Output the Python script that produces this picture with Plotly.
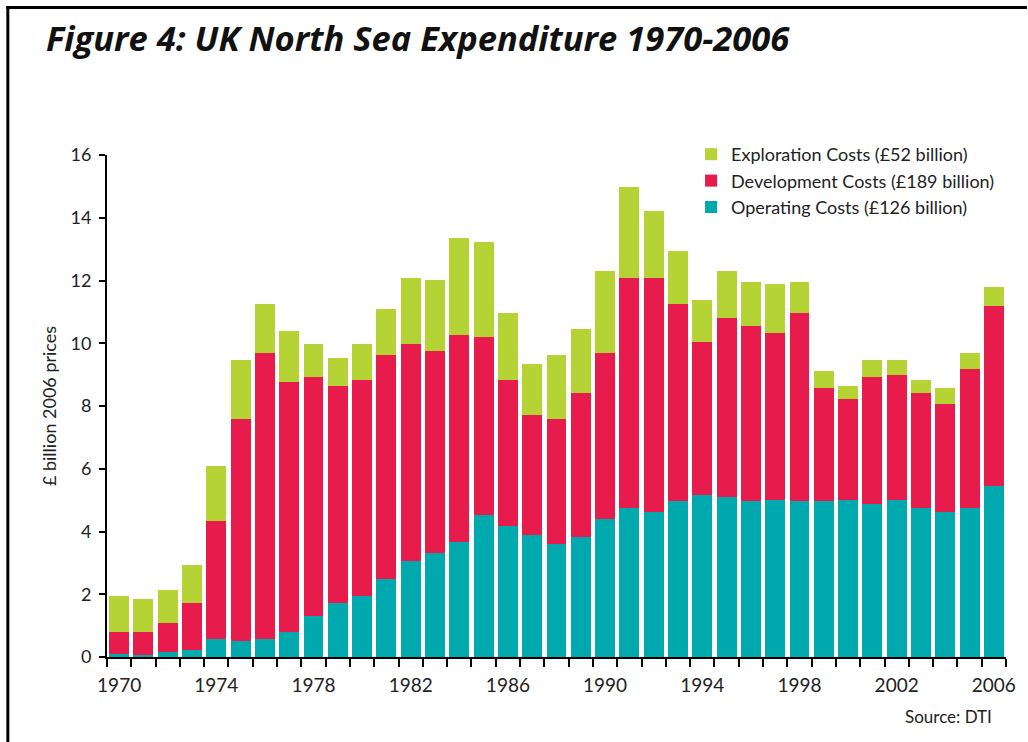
import plotly.graph_objects as go

years = list(range(1970, 2007))
# stacked tops: operating, operating+development, total
operating = [0.08, 0.06, 0.16, 0.23, 0.58, 0.51, 0.58, 0.80, 1.30, 1.72, 1.93, 2.49, 3.05,
             3.33, 3.68, 4.53, 4.18, 3.90, 3.61, 3.82, 4.39, 4.75, 4.61, 4.96, 5.17,
             5.10, 4.96, 5.02, 4.96, 4.96, 5.02, 4.88, 5.02, 4.75, 4.61, 4.75, 5.46]
dev_top = [0.80, 0.80, 1.08, 1.72, 4.33, 7.58, 9.70, 8.78, 8.92, 8.64, 8.84, 9.63, 9.98,
           9.76, 10.27, 10.19, 8.84, 7.72, 7.58, 8.42, 9.69, 12.09, 12.09, 11.24, 10.04,
           10.82, 10.54, 10.33, 10.96, 8.56, 8.21, 8.91, 8.98, 8.42, 8.07, 9.19, 11.18]
total_top = [1.93, 1.86, 2.12, 2.92, 6.10, 9.48, 11.24, 10.39, 9.98, 9.54, 9.98, 11.10, 12.09,
             12.02, 13.35, 13.22, 10.96, 9.34, 9.62, 10.46, 12.30, 14.99, 14.20, 12.94, 11.38,
             12.30, 11.94, 11.88, 11.94, 9.12, 8.63, 9.47, 9.47, 8.84, 8.56, 9.69, 11.80]
development = [round(d - o, 2) for d, o in zip(dev_top, operating)]
exploration = [round(t - d, 2) for t, d in zip(total_top, dev_top)]

names = ["Operating Costs (£126 billion)", "Development Costs (£189 billion)",
         "Exploration Costs (£52 billion)"]
colors = ["#00A9AD", "#E71C4C", "#B5D334"]
ranks = [3, 2, 1]
series = [operating, development, exploration]

label_years = list(range(1970, 2007, 4))
y_ticks = list(range(0, 17, 2))

FONT = "Lato, 'Open Sans', sans-serif"
TFONT = "'Open Sans', Lato, sans-serif"

fig = go.Figure()
for i, (nm, col, vals, rk) in enumerate(zip(names, colors, series, ranks)):
    fig.add_trace(go.Bar(x=years, y=vals, name=nm, marker=dict(color=col, line=dict(width=0)),
                         legendgroup=f"g{i}", legendrank=rk))

W, H = 1028, 742
L, R, T, B = 107, 19, 155, 85
pw, ph = W - L - R, H - T - B

def px(x):
    return (x - L) / pw

def py(y):
    return (H - B - y) / ph

fig.update_layout(
    width=W, height=H, barmode="stack", bargap=0.18,
    margin=dict(l=L, r=R, t=T, b=B),
    paper_bgcolor="white", plot_bgcolor="white",
    font=dict(family=FONT, color="#222222", size=14),
    showlegend=True,
    legend=dict(x=px(693), y=py(136), xanchor="left", yanchor="top",
                traceorder="normal", tracegroupgap=2,
                font=dict(size=18, family=FONT, color="#222222"),
                bgcolor="rgba(0,0,0,0)", itemwidth=30),
    xaxis=dict(range=[1969.5, 2006.5], tickmode="array", tickvals=label_years,
               ticktext=[str(y) for y in label_years], ticks="outside", ticklen=10,
               tickcolor="rgba(0,0,0,0)", showgrid=False,
               showline=True, linecolor="black", linewidth=2, zeroline=False,
               tickfont=dict(size=19, family=FONT, color="#222222"),
               minor=dict(tickmode="array", tickvals=[y - 0.5 for y in years] + [2006.5],
                          ticks="outside", ticklen=8, tickwidth=2, tickcolor="black",
                          showgrid=False)),
    yaxis=dict(range=[0, 16], tickmode="array", tickvals=y_ticks, ticks="outside",
               ticklen=6, tickwidth=2, tickcolor="black", showgrid=False,
               showline=True, linecolor="black", linewidth=2, zeroline=False,
               ticklabelstandoff=4,
               tickfont=dict(size=18, family=FONT, color="#222222"),
               title=dict(text="£ billion 2006 prices", standoff=9,
                          font=dict(size=18, family=FONT, color="#222222"))),
)

fig.add_annotation(text="<b><i>Figure 4: UK North Sea Expenditure 1970-2006</i></b>",
                   xref="paper", yref="paper", x=px(44), y=py(38),
                   xanchor="left", yanchor="middle", showarrow=False,
                   font=dict(size=34.5, family=TFONT, color="#111111"))
fig.add_annotation(text="Source: DTI", xref="paper", yref="paper", x=px(997), y=py(716),
                   xanchor="right", yanchor="middle", showarrow=False,
                   font=dict(size=17, family=FONT, color="#222222"))

# frame
fig.add_shape(type="line", xref="paper", yref="paper", x0=px(6), x1=px(1030), y0=py(7.5), y1=py(7.5),
              line=dict(color="black", width=3))
fig.add_shape(type="line", xref="paper", yref="paper", x0=px(7.5), x1=px(7.5), y0=py(6), y1=py(745),
              line=dict(color="black", width=3))

fig.write_html("out.html", config={"displayModeBar": False},
               post_script="document.body.style.margin='0';")
